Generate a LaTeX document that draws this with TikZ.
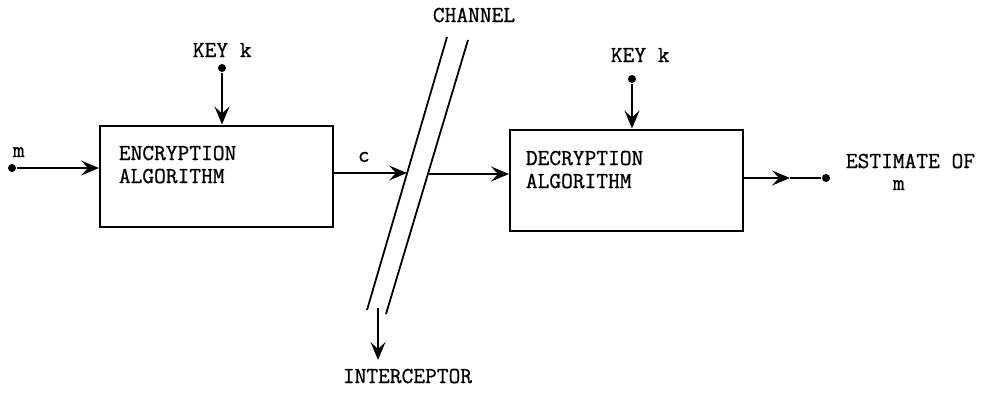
\documentclass[tikz,border=0pt]{standalone}
\usepackage{fontspec}
\newfontfamily\tw[FakeBold=0.8]{Latin Modern Mono}
\usetikzlibrary{arrows.meta}
\begin{document}
\begin{tikzpicture}[x=1pt,y=-1pt,
  line width=1.8pt,
  tip/.style={-{Stealth[length=18pt,width=15pt,inset=7pt]}},
  blockbox/.style={draw,line width=2pt,minimum width=233pt,minimum height=101pt,inner sep=0pt},
  lbl/.style={anchor=base west,inner sep=0pt,font=\tw\fontsize{22.8}{26}\selectfont},
  pin/.style={circle,fill=black,inner sep=0pt,minimum size=8pt}]
\useasboundingbox (0,0) rectangle (981,394);
% boxes
\node[blockbox] (enc) at (216.5,176) {};
\node[blockbox] (dec) at (626.5,180) {};
\node[lbl] (encl1) at (118,160) {ENCRYPTION};
\node[lbl] (encl2) at (118,183) {ALGORITHM};
\node[lbl] (decl1) at (525,165) {DECRYPTION};
\node[lbl] (decl2) at (525,188) {ALGORITHM};
% keys
\node[pin] (k1) at (222,68) {};
\node[pin] (k2) at (632,79) {};
\node[lbl] (k1l) at (192,57) {KEY k};
\node[lbl] (k2l) at (610,62) {KEY k};
\draw[tip] (k1) -- (k1 |- enc.north);
\draw[tip] (k2) -- (k2 |- dec.north);
% input
\node[pin] (min) at (12,168) {};
\node[lbl] (ml) at (12,157) {m};
\draw[tip] (min) -- (min -| enc.west);
% channel
\coordinate (ch1a) at (447,37);
\coordinate (ch1b) at (367,310);
\coordinate (ch2a) at (468,40);
\coordinate (ch2b) at (386,314);
\draw (ch1a) -- (ch1b);
\draw (ch2a) -- (ch2b);
\node[lbl] (chl) at (432,22) {CHANNEL};
\coordinate (c1) at (407,173);
\coordinate (c2) at (428,174);
\draw[tip] (c1 -| enc.east) -- (c1);
\draw[tip] (c2) -- (c2 -| dec.west);
\node[lbl] (cl) at (357,162) {c};
% interceptor
\coordinate (ia) at (378,308);
\coordinate (ib) at (378,360);
\draw[tip] (ia) -- (ib);
\node[lbl] (il) at (342,383) {INTERCEPTOR};
% output
\node[pin] (mout) at (826,178) {};
\coordinate (om) at (790,178);
\draw[tip] (om -| dec.east) -- (om);
\draw (om) -- (mout);
\node[lbl] (el1) at (845,168) {ESTIMATE OF};
\node[lbl] (el2) at (892,190) {m};
\end{tikzpicture}
\end{document}
